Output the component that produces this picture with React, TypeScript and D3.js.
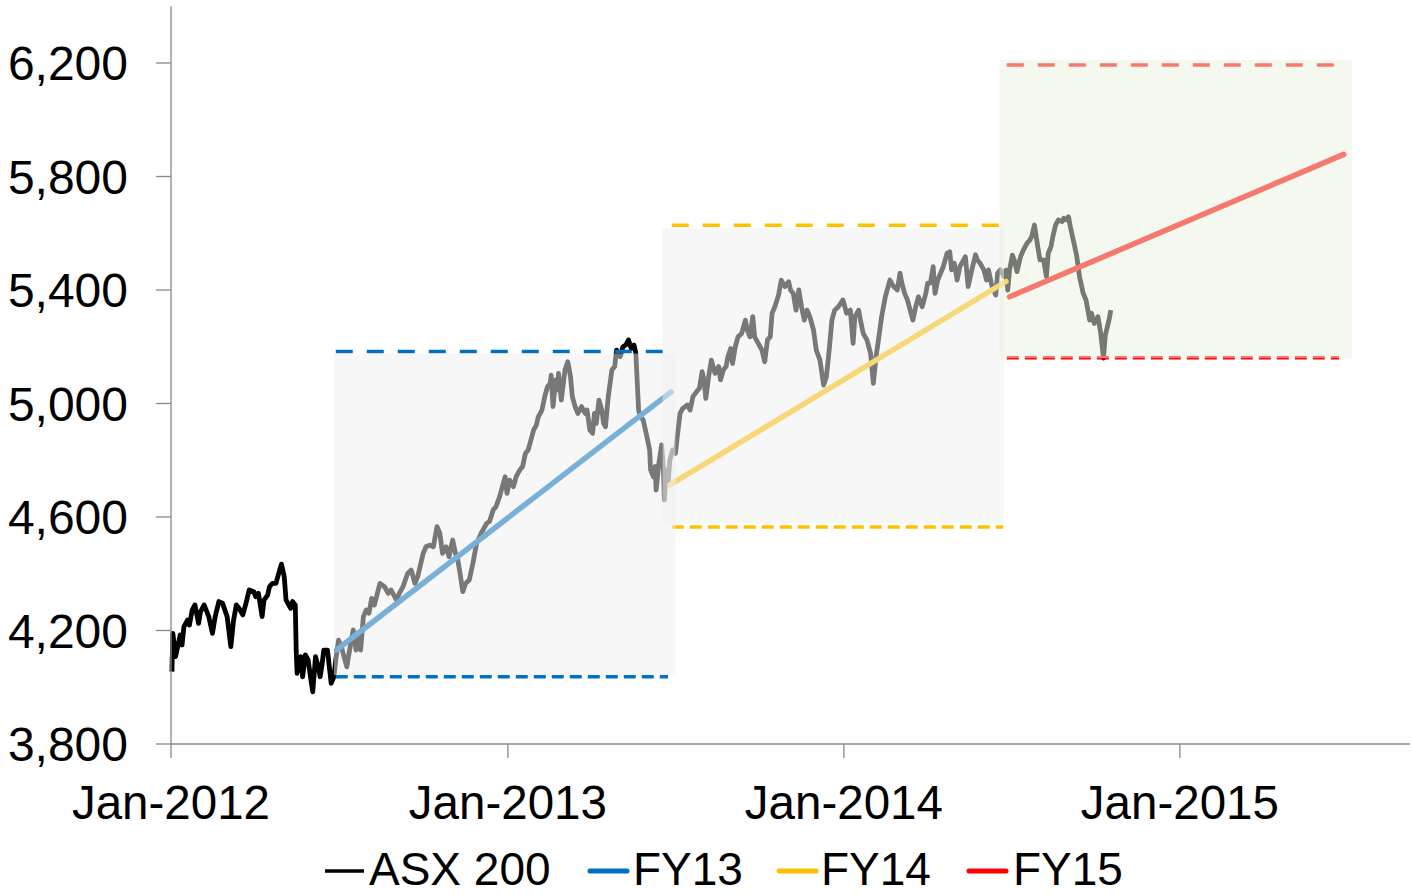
import React, { useEffect } from "react";
import * as d3 from "d3";

const FONT = '"Liberation Sans", Arial, Helvetica, sans-serif';

// ASX 200 index level
const asx200: [string, number][] = [
  ["2012-01-02",4055],["2012-01-03",4190],["2012-01-06",4108],["2012-01-11",4184],["2012-01-13",4149],["2012-01-15",4213],["2012-01-19",4237],["2012-01-21",4219],["2012-01-24",4272],["2012-01-27",4290],["2012-01-31",4225],["2012-02-02",4266],["2012-02-06",4290],["2012-02-11",4249],["2012-02-15",4190],["2012-02-18",4249],["2012-02-22",4302],["2012-02-26",4296],["2012-03-02",4249],["2012-03-06",4143],["2012-03-09",4237],["2012-03-12",4290],["2012-03-15",4278],["2012-03-19",4255],["2012-03-22",4290],["2012-03-26",4343],["2012-03-31",4337],["2012-04-02",4319],["2012-04-05",4331],["2012-04-09",4249],["2012-04-11",4307],["2012-04-15",4325],["2012-04-17",4354],["2012-04-20",4366],["2012-04-24",4366],["2012-04-27",4401],["2012-04-30",4434],["2012-05-03",4390],["2012-05-05",4307],["2012-05-07",4296],["2012-05-10",4278],["2012-05-12",4302],["2012-05-15",4290],["2012-05-16",4131],["2012-05-17",4049],["2012-05-21",4108],["2012-05-23",4037],["2012-05-26",4114],["2012-05-29",4096],["2012-06-01",4026],["2012-06-03",3984],["2012-06-06",4108],["2012-06-09",4072],["2012-06-11",4037],["2012-06-13",4078],["2012-06-15",4131],["2012-06-19",4131],["2012-06-21",4072],["2012-06-23",4014],["2012-06-26",4037],["2012-06-28",4096],
  ["2012-07-01",4166],["2012-07-04",4143],["2012-07-10",4072],["2012-07-13",4131],["2012-07-17",4202],["2012-07-20",4131],["2012-07-22",4190],["2012-07-25",4131],["2012-07-28",4249],["2012-07-31",4272],["2012-08-03",4261],["2012-08-06",4313],["2012-08-09",4290],["2012-08-15",4366],["2012-08-20",4354],["2012-08-24",4331],["2012-08-27",4343],["2012-09-02",4307],["2012-09-05",4331],["2012-09-09",4354],["2012-09-14",4401],["2012-09-18",4413],["2012-09-22",4366],["2012-09-25",4390],["2012-10-01",4472],["2012-10-04",4495],["2012-10-08",4501],["2012-10-12",4495],["2012-10-16",4566],["2012-10-19",4543],["2012-10-22",4472],["2012-10-26",4495],["2012-10-29",4460],["2012-11-02",4519],["2012-11-05",4472],["2012-11-07",4460],["2012-11-10",4401],["2012-11-13",4337],["2012-11-16",4366],["2012-11-20",4378],["2012-11-24",4437],["2012-11-28",4507],["2012-12-03",4543],["2012-12-09",4578],["2012-12-12",4584],["2012-12-16",4625],["2012-12-19",4636],["2012-12-23",4672],["2012-12-29",4742],["2012-12-31",4683],
  ["2013-01-03",4730],["2013-01-07",4707],["2013-01-10",4742],["2013-01-14",4766],["2013-01-17",4778],["2013-01-20",4824],["2013-01-23",4836],["2013-01-27",4883],["2013-01-29",4907],["2013-02-01",4924],["2013-02-03",4953],["2013-02-07",4977],["2013-02-10",5024],["2013-02-13",5059],["2013-02-16",5071],["2013-02-17",5100],["2013-02-19",4989],["2013-02-22",5083],["2013-02-24",5048],["2013-02-25",5106],["2013-02-28",5012],["2013-03-04",5118],["2013-03-07",5147],["2013-03-10",5095],["2013-03-12",5024],["2013-03-15",4989],["2013-03-18",4965],["2013-03-22",4989],["2013-03-26",4965],["2013-03-28",4977],["2013-03-31",4907],["2013-04-03",4895],["2013-04-05",4965],["2013-04-07",4930],["2013-04-10",5012],["2013-04-13",4977],["2013-04-15",4930],["2013-04-17",4918],["2013-04-20",5024],["2013-04-24",5118],["2013-04-27",5130],["2013-04-29",5188],["2013-05-03",5165],["2013-05-06",5200],["2013-05-09",5206],["2013-05-12",5224],["2013-05-15",5194],["2013-05-18",5206],["2013-05-20",5176],["2013-05-23",4977],["2013-05-25",4953],["2013-05-28",4942],["2013-06-01",4883],["2013-06-04",4836],["2013-06-05",4766],["2013-06-08",4742],["2013-06-10",4778],["2013-06-11",4695],["2013-06-14",4789],["2013-06-17",4854],["2013-06-19",4766],["2013-06-20",4660],["2013-06-22",4766],["2013-06-24",4719],["2013-06-26",4801],["2013-06-29",4836],
  ["2013-07-02",4824],["2013-07-04",4883],["2013-07-07",4965],["2013-07-10",4983],["2013-07-15",4995],["2013-07-18",4977],["2013-07-21",5024],["2013-07-25",5042],["2013-07-28",5053],["2013-07-31",5112],["2013-08-02",5083],["2013-08-04",5018],["2013-08-07",5094],["2013-08-10",5153],["2013-08-14",5106],["2013-08-18",5130],["2013-08-20",5083],["2013-08-23",5118],["2013-08-26",5130],["2013-08-28",5165],["2013-08-31",5194],["2013-09-02",5141],["2013-09-05",5200],["2013-09-08",5235],["2013-09-12",5247],["2013-09-16",5294],["2013-09-18",5259],["2013-09-21",5235],["2013-09-24",5306],["2013-09-26",5235],["2013-09-30",5212],["2013-10-04",5188],["2013-10-07",5147],["2013-10-10",5224],["2013-10-13",5235],["2013-10-15",5318],["2013-10-18",5341],["2013-10-22",5382],["2013-10-25",5435],["2013-10-29",5412],["2013-11-02",5429],["2013-11-04",5400],["2013-11-07",5388],["2013-11-10",5329],["2013-11-13",5400],["2013-11-16",5341],["2013-11-19",5294],["2013-11-22",5329],["2013-11-25",5306],["2013-11-29",5259],["2013-12-02",5188],["2013-12-06",5153],["2013-12-10",5065],["2013-12-13",5094],["2013-12-16",5188],["2013-12-19",5294],["2013-12-22",5329],["2013-12-26",5341],["2013-12-31",5365],
  ["2014-01-04",5318],["2014-01-08",5329],["2014-01-11",5212],["2014-01-13",5306],["2014-01-17",5329],["2014-01-19",5294],["2014-01-22",5247],["2014-01-26",5224],["2014-01-30",5177],["2014-02-02",5071],["2014-02-05",5165],["2014-02-08",5235],["2014-02-11",5306],["2014-02-15",5376],["2014-02-20",5435],["2014-02-24",5412],["2014-02-28",5400],["2014-03-03",5459],["2014-03-05",5424],["2014-03-08",5388],["2014-03-11",5365],["2014-03-14",5329],["2014-03-17",5294],["2014-03-20",5341],["2014-03-23",5376],["2014-03-27",5341],["2014-03-31",5388],["2014-04-02",5424],["2014-04-05",5424],["2014-04-08",5482],["2014-04-10",5388],["2014-04-13",5435],["2014-04-16",5459],["2014-04-19",5482],["2014-04-23",5529],["2014-04-26",5535],["2014-04-28",5471],["2014-05-01",5494],["2014-05-04",5435],["2014-05-07",5482],["2014-05-09",5494],["2014-05-13",5517],["2014-05-16",5412],["2014-05-20",5471],["2014-05-24",5524],["2014-05-26",5506],["2014-05-29",5494],["2014-06-02",5471],["2014-06-05",5435],["2014-06-07",5471],["2014-06-11",5412],["2014-06-15",5382],["2014-06-17",5459],["2014-06-20",5471],["2014-06-24",5447],["2014-06-26",5470],["2014-06-28",5400],["2014-06-30",5470],
  ["2014-07-03",5523],["2014-07-05",5506],["2014-07-08",5465],["2014-07-12",5518],["2014-07-15",5541],["2014-07-19",5565],["2014-07-22",5576],["2014-07-24",5588],["2014-07-27",5629],["2014-07-30",5565],["2014-08-02",5506],["2014-08-06",5506],["2014-08-09",5447],["2014-08-11",5529],["2014-08-14",5553],["2014-08-16",5588],["2014-08-19",5629],["2014-08-22",5647],["2014-08-26",5641],["2014-08-28",5653],["2014-08-31",5647],["2014-09-02",5658],["2014-09-04",5623],["2014-09-08",5565],["2014-09-11",5518],["2014-09-14",5447],["2014-09-18",5388],["2014-09-21",5365],["2014-09-25",5294],["2014-09-27",5318],["2014-09-30",5282],["2014-10-04",5306],["2014-10-07",5247],["2014-10-10",5160],["2014-10-12",5241],["2014-10-16",5294],["2014-10-18",5329],
];

// Financial-year series
const periods = ["FY13", "FY14", "FY15"];
const trendStart = ["2012-06-29", "2013-06-26", "2014-06-30"];
const trendEnd = ["2013-06-27", "2014-06-26", "2015-06-28"];
const trendStartValue = [4132, 4713, 5376];
const trendEndValue = [5040, 5430, 5878];
const bandStart = ["2012-06-28", "2013-06-28", "2014-06-27"];
const bandEnd = ["2013-06-24", "2014-06-23", "2015-06-23"];
const bandHigh = [5183, 5628, 6193];
const bandLow = [4037, 4565, 5161];
const shadeStart = ["2012-06-26", "2013-06-18", "2014-06-19"];
const shadeEnd = ["2013-07-02", "2014-06-24", "2015-07-07"];
const shadeHigh = [5176, 5617, 6210];
const shadeLow = [4043, 4578, 5160];

// Axis ticks
const yTicks = [3800, 4200, 4600, 5000, 5400, 5800, 6200];
const xTicks = ["2012-01-01", "2013-01-01", "2014-01-01", "2015-01-01"];
const xDomain = ["2012-01-01", "2015-09-08"];
const yDomain = [3800, 6400];

// Styles
const periodColors = ["#0070C0", "#FFC000", "#FF0000"];
const shadeColors = ["#F0F0F0", "#F0F0F0", "#EBF1DE"];
const legendLabels = ["ASX 200", ...periods];
const legendColors = ["#000000", ...periodColors];

const parse = d3.utcParse("%Y-%m-%d");
const fmt = d3.utcFormat("%b-%Y");
const numFmt = d3.format(",");

export default function App() {
  useEffect(() => {
    document.body.style.margin = "0";
  }, []);

  const W = 1412, H = 896;
  const x = d3.scaleUtc().domain(xDomain.map((d) => parse(d) as Date)).range([171, 1410]);
  const y = d3.scaleLinear().domain(yDomain).range([744, 6.25]);

  const line = d3
    .line<[string, number]>()
    .x((d) => x(parse(d[0]) as Date))
    .y((d) => y(d[1]));

  const legendX = [325, 588, 777, 967];
  const legendTextX = [369, 633, 821, 1013];

  return (
    <svg width={W} height={H} style={{ display: "block" }} xmlns="http://www.w3.org/2000/svg">
      <rect x={0} y={0} width={W} height={H} fill="#ffffff" />
      {/* ASX line */}
      <path d={line(asx200) || ""} fill="none" stroke="#000" strokeWidth={4.8} strokeLinejoin="round" />
      {/* trend lines */}
      {periods.map((p, i) => (
        <line
          key={"t" + p}
          x1={x(parse(trendStart[i]) as Date)}
          y1={y(trendStartValue[i])}
          x2={x(parse(trendEnd[i]) as Date)}
          y2={y(trendEndValue[i])}
          stroke={periodColors[i]}
          strokeWidth={5.5}
          strokeLinecap="round"
        />
      ))}
      {/* band dashed lines */}
      {periods.map((p, i) => (
        <g key={"b" + p}>
          <line
            x1={x(parse(bandStart[i]) as Date)}
            x2={x(parse(bandEnd[i]) as Date)}
            y1={y(bandHigh[i])}
            y2={y(bandHigh[i])}
            stroke={periodColors[i]}
            strokeWidth={3.6}
            strokeDasharray="17 14"
          />
          <line
            x1={x(parse(bandStart[i]) as Date)}
            x2={x(parse(bandEnd[i]) as Date)}
            y1={y(bandLow[i])}
            y2={y(bandLow[i])}
            stroke={periodColors[i]}
            strokeWidth={3.6}
            strokeDasharray="12 6"
          />
        </g>
      ))}
      {/* translucent shading */}
      {periods.map((p, i) => {
        const x0 = x(parse(shadeStart[i]) as Date);
        const x1 = x(parse(shadeEnd[i]) as Date);
        const y0 = y(shadeHigh[i]);
        const y1 = y(shadeLow[i]);
        return (
          <rect key={"s" + p} x={x0} y={y0} width={x1 - x0} height={y1 - y0} fill={shadeColors[i]} fillOpacity={0.5} />
        );
      })}
      {/* axes */}
      <line x1={171} x2={171} y1={y(yDomain[1])} y2={744} stroke="#898989" strokeWidth={1.3} />
      <line x1={171} x2={1410} y1={744} y2={744} stroke="#898989" strokeWidth={1.3} />
      {yTicks.map((t) => (
        <g key={"y" + t}>
          <line x1={156} x2={171} y1={y(t)} y2={y(t)} stroke="#898989" strokeWidth={1.3} />
          <text x={128} y={y(t) + 17.2} textAnchor="end" fontFamily={FONT} fontSize={48} fill="#000">
            {numFmt(t)}
          </text>
        </g>
      ))}
      {xTicks.map((t) => {
        const xx = x(parse(t) as Date);
        return (
          <g key={"x" + t}>
            <line x1={xx} x2={xx} y1={744} y2={758} stroke="#898989" strokeWidth={1.3} />
            <text x={xx} y={819} textAnchor="middle" fontFamily={FONT} fontSize={47.5} fill="#000">
              {fmt(parse(t) as Date)}
            </text>
          </g>
        );
      })}
      {/* legend */}
      {legendLabels.map((l, i) => (
        <g key={"l" + l}>
          <line
            x1={legendX[i] + (i === 0 ? 0 : 2)}
            x2={legendX[i] + 39}
            y1={871}
            y2={871}
            stroke={legendColors[i]}
            strokeWidth={i === 0 ? 3.4 : 5}
            strokeLinecap={i === 0 ? "butt" : "round"}
          />
          <text x={legendTextX[i]} y={885} fontFamily={FONT} fontSize={46} fill="#000">
            {l}
          </text>
        </g>
      ))}
    </svg>
  );
}
